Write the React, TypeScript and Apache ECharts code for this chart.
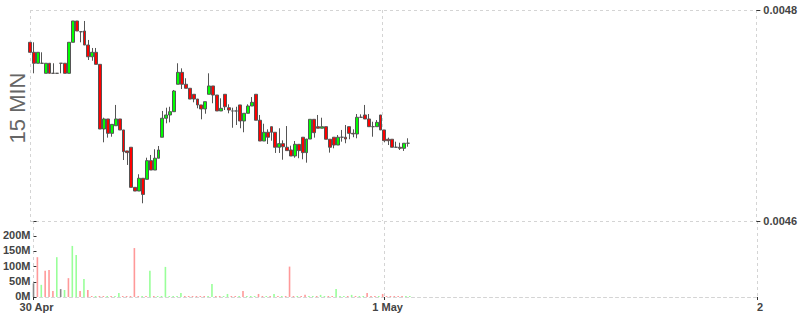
import React, { useEffect, useRef } from "react";
import * as echarts from "echarts";

// 15-minute candles, 30 Apr 01:15 -> 1 May 01:45 (price in units of the asset)
const opens = [
  0.0047694, 0.0047599, 0.0047495, 0.0047495, 0.00474, 0.0047495, 0.00474, 0.00474, 0.0047495, 0.0047495,
  0.00474, 0.0047694, 0.0047896, 0.0047794, 0.0047801, 0.0047668, 0.0047557, 0.0047599, 0.0047485, 0.0046872,
  0.0046967, 0.0046831, 0.0046903, 0.0046967, 0.0046863, 0.0046664, 0.0046699, 0.0046319, 0.0046284, 0.0046405,
  0.0046395, 0.0046572, 0.0046483, 0.0046595, 0.0046794, 0.0046974, 0.0047005, 0.0047036, 0.0047296, 0.0047409,
  0.0047296, 0.0047258, 0.0047201, 0.0047156, 0.00471, 0.0047062, 0.0047201, 0.004728, 0.0047194, 0.0047043,
  0.0047201, 0.0047074, 0.0047043, 0.0047043, 0.00471, 0.0046948, 0.0047021, 0.004709, 0.0047201, 0.0046955,
  0.0046758, 0.0046841, 0.0046894, 0.0046841, 0.0046699, 0.0046733, 0.0046699, 0.0046673, 0.0046616, 0.0046727,
  0.0046794, 0.0046648, 0.0046777, 0.0046964, 0.0046894, 0.0046879, 0.0046894, 0.0046775, 0.0046794, 0.004672,
  0.0046794, 0.0046794, 0.0046894, 0.0046831, 0.0046825, 0.0046983, 0.0047005, 0.0046967, 0.0046894, 0.0046894,
  0.0047005, 0.0046863, 0.0046775, 0.0046775, 0.0046699, 0.0046699, 0.0046689, 0.0046737,
];
const closes = [
  0.0047599, 0.0047495, 0.0047599, 0.0047495, 0.0047495, 0.00474, 0.00474, 0.00474, 0.0047495, 0.00474,
  0.0047694, 0.0047896, 0.0047801, 0.0047794, 0.0047668, 0.0047557, 0.0047599, 0.0047485, 0.0046872, 0.0046967,
  0.0046831, 0.0046916, 0.0046967, 0.0046863, 0.0046657, 0.0046648, 0.0046319, 0.0046284, 0.0046405, 0.0046252,
  0.0046572, 0.0046483, 0.0046595, 0.0046673, 0.0046974, 0.0047005, 0.0047036, 0.0047232, 0.0047409, 0.0047296,
  0.0047258, 0.0047156, 0.0047156, 0.00471, 0.0047062, 0.0047131, 0.004728, 0.0047194, 0.0047043, 0.0047068,
  0.0047083, 0.0047052, 0.0047043, 0.0047043, 0.0046948, 0.0047021, 0.004709, 0.0047125, 0.0046955, 0.0046758,
  0.0046841, 0.0046794, 0.0046841, 0.0046699, 0.0046733, 0.0046704, 0.0046667, 0.0046616, 0.0046727, 0.0046667,
  0.0046648, 0.0046777, 0.0046964, 0.0046837, 0.0046879, 0.0046894, 0.0046775, 0.0046699, 0.004672, 0.0046794,
  0.0046794, 0.0046777, 0.0046831, 0.0046825, 0.0046983, 0.0046983, 0.0046967, 0.0046894, 0.0046894, 0.0046935,
  0.0046863, 0.0046761, 0.0046761, 0.0046699, 0.0046699, 0.0046689, 0.0046737, 0.0046737,
];
const lows = [
  0.0047599, 0.00474, 0.0047495, 0.0047495, 0.00474, 0.00474, 0.00474, 0.00474, 0.00474, 0.00474,
  0.00474, 0.0047694, 0.0047801, 0.0047694, 0.0047668, 0.0047526, 0.0047519, 0.0047485, 0.0046872, 0.0046746,
  0.004679, 0.0046799, 0.0046903, 0.0046863, 0.0046578, 0.0046531, 0.0046319, 0.0046284, 0.0046284, 0.0046168,
  0.0046395, 0.0046483, 0.0046483, 0.0046595, 0.0046794, 0.0046926, 0.0046935, 0.0047036, 0.0047296, 0.0047251,
  0.0047258, 0.0047156, 0.0047125, 0.0047068, 0.0046964, 0.0047017, 0.0047201, 0.0047116, 0.0047043, 0.0047043,
  0.0047052, 0.0047021, 0.0046884, 0.004691, 0.0046879, 0.0046841, 0.0047021, 0.004709, 0.0046955, 0.0046758,
  0.0046758, 0.004673, 0.0046761, 0.0046645, 0.0046645, 0.0046581, 0.0046667, 0.0046616, 0.00466, 0.0046595,
  0.0046585, 0.0046553, 0.0046777, 0.004679, 0.0046879, 0.0046879, 0.0046775, 0.0046648, 0.0046689, 0.004672,
  0.0046752, 0.0046737, 0.0046775, 0.0046794, 0.0046784, 0.0046983, 0.0046967, 0.0046894, 0.0046799, 0.0046894,
  0.0046863, 0.0046746, 0.004672, 0.0046699, 0.0046699, 0.0046673, 0.0046664, 0.0046704,
];
const highs = [
  0.0047694, 0.0047694, 0.0047599, 0.0047599, 0.0047495, 0.0047495, 0.0047495, 0.00474, 0.0047495, 0.0047495,
  0.0047694, 0.0047896, 0.0047896, 0.0047794, 0.0047896, 0.0047716, 0.004764, 0.004764, 0.0047485, 0.0046979,
  0.0046967, 0.0046916, 0.00471, 0.0046967, 0.0046863, 0.0046664, 0.0046699, 0.0046319, 0.0046443, 0.0046405,
  0.00466, 0.0046626, 0.004668, 0.0046711, 0.0047043, 0.0047074, 0.0047083, 0.0047242, 0.0047495, 0.0047447,
  0.0047353, 0.0047258, 0.0047201, 0.0047156, 0.00471, 0.0047131, 0.00474, 0.004728, 0.0047194, 0.0047163,
  0.0047201, 0.0047106, 0.0047074, 0.0047083, 0.00471, 0.0047021, 0.0047106, 0.0047175, 0.0047201, 0.0047005,
  0.0046922, 0.0046869, 0.0046894, 0.0046841, 0.0046879, 0.0046765, 0.00469, 0.0046714, 0.0046758, 0.0046727,
  0.0046794, 0.0046777, 0.0046964, 0.0046964, 0.0047005, 0.0046979, 0.0046894, 0.0046775, 0.0046794, 0.0046815,
  0.0046863, 0.004691, 0.0046894, 0.0046869, 0.0047014, 0.0047011, 0.00471, 0.0047014, 0.0046941, 0.0046957,
  0.0047005, 0.0046863, 0.004679, 0.0046775, 0.0046752, 0.0046742, 0.0046737, 0.0046784,
];
// volume in millions
const volumesM = [
  45, 131, 40, 86, 89, 20, 131, 26, 23, 62,
  168, 138, 20, 59, 23, 2, 1, 2, 1, 2,
  1, 2, 13, 1, 2, 1, 161, 1, 2, 1,
  86, 1, 2, 1, 99, 1, 2, 1, 13, 1,
  2, 1, 2, 1, 2, 1, 43, 1, 2, 1,
  10, 1, 2, 1, 20, 1, 2, 1, 10, 1,
  2, 1, 10, 1, 2, 1, 100, 1, 2, 1,
  7, 1, 2, 1, 7, 1, 2, 1, 26, 1,
  2, 1, 7, 1, 2, 1, 13, 1, 2, 1,
  10, 1, 2, 1, 2, 1, 2, 1,
];
// 1 = up, -1 = down, 0 = unchanged
const volumeDir = [
  0, -1, 1, -1, -1, -1, 1, 0, 1, -1,
  1, 1, -1, 1, -1, -1, 1, -1, -1, 1,
  -1, 1, 1, -1, -1, -1, -1, -1, 1, -1,
  1, -1, 1, 1, 1, 1, 1, 1, 1, -1,
  -1, -1, -1, -1, -1, 1, 1, -1, -1, 1,
  1, -1, -1, 1, -1, 1, 1, 1, -1, -1,
  1, -1, 1, -1, 1, -1, -1, -1, 1, -1,
  -1, 1, 1, -1, 1, 1, -1, -1, 1, 1,
  1, -1, 1, -1, 1, 1, -1, -1, -1, 1,
  -1, -1, -1, -1, -1, -1, 1, 1,
];
// the time axis is divided in half-slots of 7.5 minutes: 30 Apr 01:22:30 -> 2 May 00:00
const HALF_SLOTS = 374;
const xTickIndex = [0, 181, 373];
const xTickLabels = ["30 Apr", "1 May", "2"];
const priceMin = 0.0046;
const priceMax = 0.0048;
const priceStep = 0.0002;
const volMaxM = 250;
const volStepM = 50;

const UP = "#00ff00";
const DOWN = "#ff0000";
const VOL_UP = "#99ff99";
const VOL_DOWN = "#ff9999";
const VOL_FLAT = "#888888";
const GRIDC = "#d4d4d4";
const LABELC = "#444";
const FONT = "'Liberation Sans', Arial, sans-serif";

export default function App() {
  const ref = useRef<HTMLDivElement>(null);
  useEffect(() => {
    if (!ref.current) return;
    const chart = echarts.init(ref.current, undefined, { renderer: "svg" });
    const cats = Array.from({ length: HALF_SLOTS }, (_, k) => String(k));
    const candleData: any[] = cats.map(() => ["-", "-", "-", "-"]);
    const volData: any[] = cats.map(() => "-");
    opens.forEach((o, i) => {
      candleData[2 * i] = [o, closes[i], lows[i], highs[i]];
      const d = volumeDir[i];
      volData[2 * i] = {
        value: volumesM[i],
        itemStyle: { color: d > 0 ? VOL_UP : d < 0 ? VOL_DOWN : VOL_FLAT },
      };
    });
    const isTick = (idx: number) => xTickIndex.indexOf(idx) >= 0;
    const split = {
      show: true,
      interval: isTick,
      lineStyle: { color: GRIDC, type: [3, 3], width: 1 },
    };
    const labelStyle = { color: LABELC, fontSize: 11, fontWeight: "bold", fontFamily: FONT };
    chart.setOption({
      animation: false,
      backgroundColor: "#ffffff",
      grid: [
        { left: 30, right: 43, top: 10, height: 211 },
        { left: 30, right: 43, top: 221, height: 76 },
      ],
      xAxis: [
        {
          type: "category",
          gridIndex: 0,
          data: cats,
          boundaryGap: false,
          axisLine: { show: false },
          axisTick: { show: false },
          axisLabel: { show: false },
          splitLine: split,
        },
        {
          type: "category",
          gridIndex: 1,
          data: cats,
          boundaryGap: false,
          axisLine: { show: true, lineStyle: { color: GRIDC, type: [3, 3] } },
          axisTick: { show: true, interval: isTick, length: 3, lineStyle: { color: "#333" } },
          axisLabel: {
            ...labelStyle,
            interval: isTick,
            margin: 4,
            lineHeight: 11,
            padding: [0, 0, 0, 6],
            formatter: (_v: string, idx: number) => {
              const p = xTickIndex.indexOf(idx);
              return p >= 0 ? xTickLabels[p] : "";
            },
          },
          splitLine: split,
        },
      ],
      yAxis: [
        {
          type: "value",
          gridIndex: 0,
          position: "right",
          min: priceMin,
          max: priceMax,
          interval: priceStep,
          axisLine: { show: false },
          axisTick: { show: true, length: 4, lineStyle: { color: "#333" } },
          axisLabel: { ...labelStyle, margin: 7, formatter: (v: number) => v.toFixed(4) },
          splitLine: { show: true, lineStyle: { color: GRIDC, type: [3, 3] } },
        },
        {
          type: "value",
          gridIndex: 1,
          position: "left",
          min: 0,
          max: volMaxM,
          interval: volStepM,
          axisLine: { show: false },
          axisTick: { show: true, inside: true, length: 3, lineStyle: { color: "#333" } },
          axisLabel: {
            ...labelStyle,
            margin: 3,
            lineHeight: 10,
            verticalAlign: "bottom",
            padding: [0, 0, -4, 0],
            formatter: (v: number) => (v >= volMaxM ? "" : v + "M"),
          },
          splitLine: { show: false },
        },
      ],
      graphic: [
        {
          type: "text",
          x: 17,
          y: 108,
          rotation: Math.PI / 2,
          style: {
            text: "15 MIN",
            fontSize: 22,
            fontFamily: FONT,
            fill: "#666",
            align: "center",
            verticalAlign: "middle",
            textAlign: "center",
            textVerticalAlign: "middle",
          },
        },
      ],
      series: [
        {
          type: "candlestick",
          xAxisIndex: 0,
          yAxisIndex: 0,
          data: candleData,
          barWidth: 3.4,
          itemStyle: {
            color: UP,
            color0: DOWN,
            borderColor: "#555",
            borderColor0: "#555",
            borderColorDoji: "#555",
            borderWidth: 1,
          },
        },
        {
          type: "bar",
          xAxisIndex: 1,
          yAxisIndex: 1,
          data: volData,
          barWidth: 1.6,
          barMinHeight: 1,
        },
      ],
    });
    return () => chart.dispose();
  }, []);
  return (
    <div
      ref={ref}
      style={{ position: "fixed", left: 0, top: 0, width: 800, height: 315 }}
    />
  );
}
